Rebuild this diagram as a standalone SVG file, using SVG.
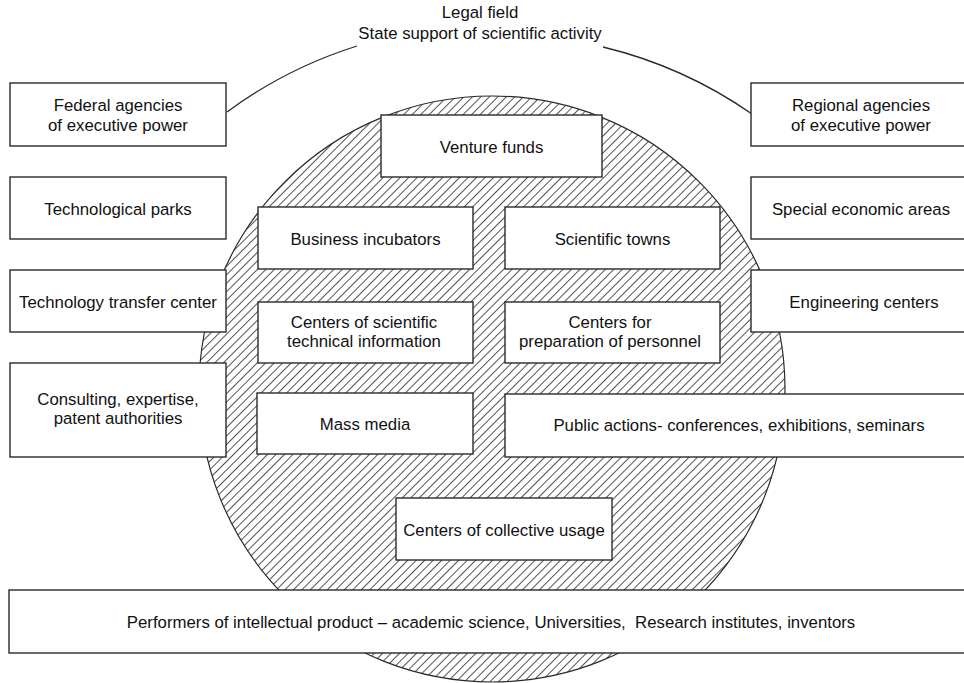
<svg xmlns="http://www.w3.org/2000/svg" width="964" height="683" viewBox="0 0 964 683">
<defs>
<pattern id="hatch" patternUnits="userSpaceOnUse" width="6" height="6" patternTransform="rotate(45)">
<line x1="0" y1="0" x2="0" y2="6" stroke="#000" stroke-width="1.35"/>
</pattern>
<style>
.box{fill:#fff;stroke:#2a2a2a;stroke-width:1.4}
.t{font-family:"Liberation Sans",Arial,sans-serif;font-size:16.8px;fill:#111;text-anchor:middle}
.ln{fill:none;stroke:#2a2a2a;stroke-width:1.3}
</style>
</defs>
<rect width="964" height="683" fill="#fff"/>
<g id="field">
<circle cx="492" cy="389" r="293" fill="url(#hatch)" stroke="#2a2a2a" stroke-width="1.2"/>
</g>
<g id="connectors">
<path class="ln" d="M227,112 A443,443 0 0 1 357,46"/>
<path class="ln" d="M603,47 A443,443 0 0 1 752,114"/>
</g>
<g id="legal-field">
<text class="t" x="480" y="18">Legal field</text>
<text class="t" x="480" y="39">State support of scientific activity</text>
</g>
<g id="federal"><rect class="box" x="10" y="83" width="216" height="63"/><text class="t" x="118" y="110.5">Federal agencies</text><text class="t" x="118" y="130.5">of executive power</text></g>
<g id="techparks"><rect class="box" x="10" y="177" width="216" height="62"/><text class="t" x="118" y="214.5">Technological parks</text></g>
<g id="transfer"><rect class="box" x="10" y="270" width="216" height="62"/><text class="t" x="118" y="307.5">Technology transfer center</text></g>
<g id="consulting"><rect class="box" x="10" y="363" width="216" height="94"/><text class="t" x="118" y="404.5">Consulting, expertise,</text><text class="t" x="118" y="424">patent authorities</text></g>
<g id="venture"><rect class="box" x="381" y="115" width="221" height="62"/><text class="t" x="491.5" y="152.5">Venture funds</text></g>
<g id="incubators"><rect class="box" x="258" y="207" width="215" height="62"/><text class="t" x="365.5" y="244.5">Business incubators</text></g>
<g id="towns"><rect class="box" x="505" y="207" width="215" height="62"/><text class="t" x="612.5" y="244.5">Scientific towns</text></g>
<g id="regional"><rect class="box" x="751" y="83" width="216" height="63"/><text class="t" x="861" y="110.5">Regional agencies</text><text class="t" x="861" y="130.5">of executive power</text></g>
<g id="sez"><rect class="box" x="751" y="177" width="216" height="62"/><text class="t" x="861" y="214.5">Special economic areas</text></g>
<g id="engineering"><rect class="box" x="751" y="270" width="216" height="62"/><text class="t" x="864" y="307.5">Engineering centers</text></g>
<g id="sti"><rect class="box" x="258" y="302" width="215" height="61"/><text class="t" x="364" y="327.5">Centers of scientific</text><text class="t" x="364" y="347">technical information</text></g>
<g id="personnel"><rect class="box" x="505" y="302" width="215" height="61"/><text class="t" x="610" y="327.5">Centers for</text><text class="t" x="610" y="347">preparation of personnel</text></g>
<g id="media"><rect class="box" x="257" y="393" width="216" height="61"/><text class="t" x="365" y="429.5">Mass media</text></g>
<g id="public"><rect class="box" x="505" y="394" width="462" height="63"/><text class="t" x="739" y="431">Public actions- conferences, exhibitions, seminars</text></g>
<g id="collective"><rect class="box" x="396" y="498" width="216" height="62"/><text class="t" x="504" y="535.5">Centers of collective usage</text></g>
<g id="performers"><rect class="box" x="9" y="590" width="958" height="63"/><text class="t" x="491" y="627.5" xml:space="preserve">Performers of intellectual product – academic science, Universities,  Research institutes, inventors</text></g>
</svg>
